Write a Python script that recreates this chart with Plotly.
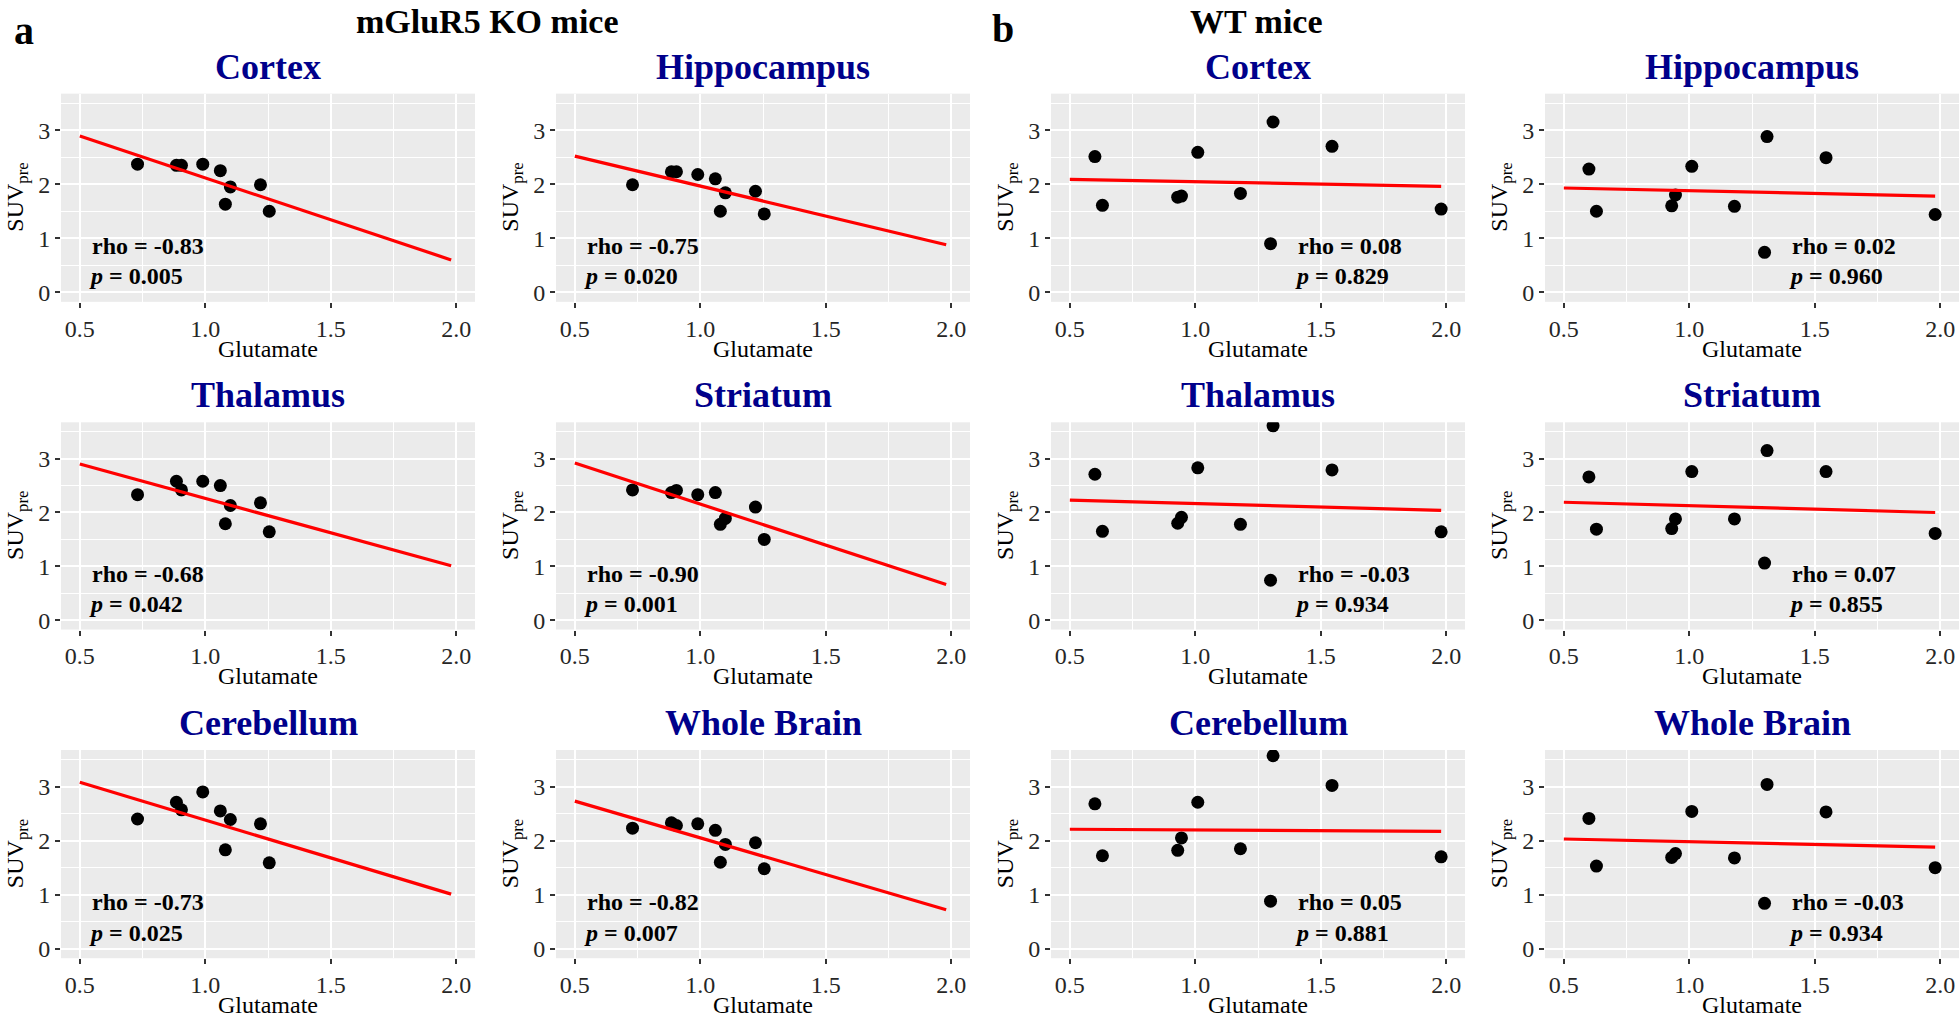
import plotly.graph_objects as go

W, H = 1960, 1020

# ---------------- data ----------------
regions = ["Cortex", "Hippocampus", "Thalamus", "Striatum", "Cerebellum", "Whole Brain"]

ko_glutamate = [0.73, 0.885, 0.905, 0.99, 1.06, 1.08, 1.10, 1.22, 1.255]
wt_glutamate = [0.60, 0.63, 0.93, 0.945, 1.01, 1.18, 1.30, 1.31, 1.545, 1.98]

ko_cortex = [2.37, 2.35, 2.35, 2.37, 2.25, 1.63, 1.95, 1.99, 1.50]
ko_hippocampus = [1.99, 2.23, 2.23, 2.18, 2.10, 1.50, 1.84, 1.87, 1.45]
ko_thalamus = [2.33, 2.58, 2.42, 2.58, 2.50, 1.79, 2.13, 2.18, 1.64]
ko_striatum = [2.42, 2.37, 2.41, 2.33, 2.37, 1.78, 1.89, 2.10, 1.50]
ko_cerebellum = [2.40, 2.71, 2.57, 2.90, 2.55, 1.83, 2.39, 2.31, 1.59]
ko_whole_brain = [2.23, 2.33, 2.28, 2.31, 2.19, 1.60, 1.93, 1.96, 1.48]

wt_cortex = [2.51, 1.61, 1.76, 1.78, 2.59, 1.83, 0.90, 3.15, 2.70, 1.54]
wt_hippocampus = [2.28, 1.50, 1.60, 1.80, 2.33, 1.59, 0.74, 2.88, 2.49, 1.44]
wt_thalamus = [2.71, 1.65, 1.80, 1.91, 2.83, 1.78, 0.74, 3.61, 2.79, 1.64]
wt_striatum = [2.66, 1.69, 1.70, 1.88, 2.76, 1.88, 1.06, 3.15, 2.76, 1.61]
wt_cerebellum = [2.68, 1.72, 1.82, 2.05, 2.71, 1.85, 0.88, 3.57, 3.02, 1.70]
wt_whole_brain = [2.41, 1.53, 1.69, 1.76, 2.54, 1.68, 0.84, 3.04, 2.53, 1.50]

# fitted regression line end points
fit_x = [0.5, 1.98]
ko_fit_start = [2.89, 2.52, 2.90, 2.92, 3.08, 2.73]
ko_fit_end = [0.60, 0.88, 1.01, 0.66, 1.01, 0.72]
wt_fit_start = [2.09, 1.93, 2.23, 2.19, 2.21, 2.03]
wt_fit_end = [1.96, 1.78, 2.04, 2.00, 2.17, 1.88]

ko_rho = ["-0.83", "-0.75", "-0.68", "-0.90", "-0.73", "-0.82"]
ko_p = ["0.005", "0.020", "0.042", "0.001", "0.025", "0.007"]
wt_rho = ["0.08", "0.02", "-0.03", "0.07", "0.05", "-0.03"]
wt_p = ["0.829", "0.960", "0.934", "0.855", "0.881", "0.934"]

x_ticks = [0.5, 1.0, 1.5, 2.0]
x_tick_labels = ["0.5", "1.0", "1.5", "2.0"]
x_minor = [0.75, 1.25, 1.75]
y_ticks = [0, 1, 2, 3]
y_tick_labels = ["0", "1", "2", "3"]
y_minor = [0.5, 1.5, 2.5, 3.5]

ko_values = [ko_cortex, ko_hippocampus, ko_thalamus, ko_striatum, ko_cerebellum, ko_whole_brain]
wt_values = [wt_cortex, wt_hippocampus, wt_thalamus, wt_striatum, wt_cerebellum, wt_whole_brain]

# ---------------- layout geometry (pixels) ----------------
col_px = [(61, 475), (556, 970), (1051, 1465), (1545, 1959)]
row_px = [(94, 303), (424, 632), (753, 962)]
X_RANGE = [0.425, 2.075]
Y_RANGE = [-0.175, 3.675]

SERIF = "Liberation Serif"
TITLE_BLUE = "#00008B"


def px_x(p):
    return p / W


def px_y(p):
    return 1 - p / H


fig = go.Figure()
annotations = []

panels = []
for group, glut, vals, fs, fe, rhos, ps, col_off, text_x in [
    ("ko", ko_glutamate, ko_values, ko_fit_start, ko_fit_end, ko_rho, ko_p, 0, 0.54),
    ("wt", wt_glutamate, wt_values, wt_fit_start, wt_fit_end, wt_rho, wt_p, 2, 1.40),
]:
    for i, region in enumerate(regions):
        panels.append(dict(
            region=region, x=glut, y=vals[i], fit_y=[fs[i], fe[i]],
            rho=rhos[i], p=ps[i], row=i // 2, col=col_off + i % 2, text_x=text_x,
        ))

for k, pn in enumerate(panels, start=1):
    xa = "x" if k == 1 else f"x{k}"
    ya = "y" if k == 1 else f"y{k}"
    (l, r) = col_px[pn["col"]]
    (t, b) = row_px[pn["row"]]

    fig.add_trace(go.Scatter(
        x=pn["x"], y=pn["y"], mode="markers", xaxis=xa, yaxis=ya,
        marker=dict(color="black", size=13, line=dict(width=0)),
        showlegend=False, hoverinfo="skip",
    ))
    fig.add_trace(go.Scatter(
        x=fit_x, y=pn["fit_y"], mode="lines", xaxis=xa, yaxis=ya,
        line=dict(color="#FF0000", width=3.2),
        showlegend=False, hoverinfo="skip",
    ))

    axis_common = dict(
        showline=False, zeroline=False, showgrid=True,
        gridcolor="white", gridwidth=2,
        ticks="outside", ticklen=5, tickwidth=1.5, tickcolor="#333333",
        tickfont=dict(family=SERIF, size=24, color="#262626"),
        fixedrange=True,
    )
    fig.layout[f"xaxis{'' if k == 1 else k}"] = dict(
        axis_common,
        domain=[px_x(l), px_x(r)], anchor=ya, range=X_RANGE,
        tickmode="array", tickvals=x_ticks, ticktext=x_tick_labels,
        minor=dict(tickvals=x_minor, showgrid=True, gridcolor="white", gridwidth=1, ticks=""),
    )
    fig.layout[f"yaxis{'' if k == 1 else k}"] = dict(
        axis_common,
        domain=[px_y(b), px_y(t)], anchor=xa, range=Y_RANGE,
        tickmode="array", tickvals=y_ticks, ticktext=y_tick_labels,
        minor=dict(tickvals=y_minor, showgrid=True, gridcolor="white", gridwidth=1, ticks=""),
    )

    cx = (l + r) / 2
    cy = (t + b) / 2
    # panel title
    annotations.append(dict(
        text=f"<b>{pn['region']}</b>", x=px_x(cx), y=px_y(t - 27), xref="paper", yref="paper",
        xanchor="center", yanchor="middle", showarrow=False,
        font=dict(family=SERIF, size=36, color=TITLE_BLUE),
    ))
    # x-axis title
    annotations.append(dict(
        text="Glutamate", x=px_x(cx), y=px_y(b + 47), xref="paper", yref="paper",
        xanchor="center", yanchor="middle", showarrow=False,
        font=dict(family=SERIF, size=24, color="black"),
    ))
    # y-axis title
    annotations.append(dict(
        text="SUV<sub>pre</sub>", x=px_x(l - 44), y=px_y(cy), xref="paper", yref="paper",
        xanchor="center", yanchor="middle", showarrow=False, textangle=-90,
        font=dict(family=SERIF, size=24, color="black"),
    ))
    # statistics
    annotations.append(dict(
        text=f"<b>rho = {pn['rho']}</b>", x=pn["text_x"], y=0.86, xref=xa, yref=ya,
        xanchor="left", yanchor="middle", showarrow=False,
        font=dict(family=SERIF, size=24, color="black"),
    ))
    annotations.append(dict(
        text=f"<b><i>p</i> = {pn['p']}</b>", x=pn["text_x"] - 0.01, y=0.30, xref=xa, yref=ya,
        xanchor="left", yanchor="middle", showarrow=False,
        font=dict(family=SERIF, size=24, color="black"),
    ))

# group headers and panel letters
annotations += [
    dict(text="<b>mGluR5 KO mice</b>", x=px_x(487), y=px_y(22), xref="paper", yref="paper",
         xanchor="center", yanchor="middle", showarrow=False,
         font=dict(family=SERIF, size=34, color="black")),
    dict(text="<b>WT mice</b>", x=px_x(1256), y=px_y(22), xref="paper", yref="paper",
         xanchor="center", yanchor="middle", showarrow=False,
         font=dict(family=SERIF, size=34, color="black")),
    dict(text="<b>a</b>", x=px_x(24), y=px_y(31), xref="paper", yref="paper",
         xanchor="center", yanchor="middle", showarrow=False,
         font=dict(family=SERIF, size=40, color="black")),
    dict(text="<b>b</b>", x=px_x(1003), y=px_y(29), xref="paper", yref="paper",
         xanchor="center", yanchor="middle", showarrow=False,
         font=dict(family=SERIF, size=40, color="black")),
]

fig.update_layout(
    width=W, height=H,
    margin=dict(l=0, r=0, t=0, b=0),
    paper_bgcolor="white", plot_bgcolor="#EBEBEB",
    annotations=annotations, showlegend=False,
)

fig.write_html(
    "out.html",
    config={"displayModeBar": False},
    post_script="document.body.style.margin='0';document.body.style.overflow='hidden';",
)
